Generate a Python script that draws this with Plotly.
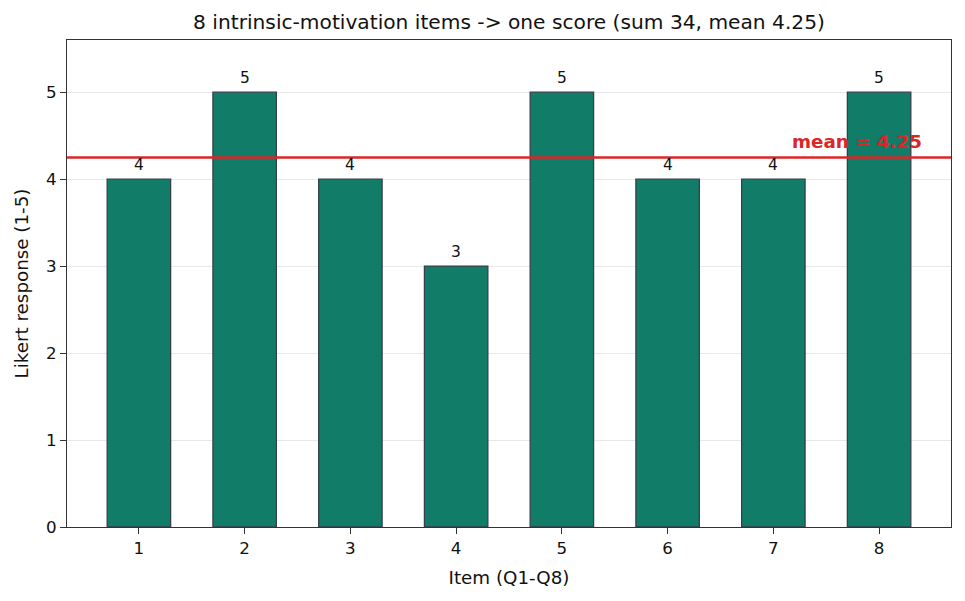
import plotly.graph_objects as go

items = [1, 2, 3, 4, 5, 6, 7, 8]
responses = [4, 5, 4, 3, 5, 4, 4, 5]
mean_val = sum(responses) / len(responses)
title = "8 intrinsic-motivation items -> one score (sum 34, mean 4.25)"
x_label = "Item (Q1-Q8)"
y_label = "Likert response (1-5)"

FONT = "DejaVu Sans"
BAR = "#117d69"
EDGE = "#36404d"
RED = "#dc2626"
AX = "#333333"

fig = go.Figure()
fig.add_trace(go.Bar(
    x=items, y=responses, width=0.6,
    marker=dict(color=BAR, line=dict(color=EDGE, width=1.3)),
    hoverinfo="x+y", showlegend=False,
))

for xi, yi in zip(items, responses):
    fig.add_annotation(x=xi, y=yi, text=str(yi), showarrow=False,
                       yanchor="bottom", yshift=3,
                       font=dict(family=FONT, size=15.5, color="#111111"))

fig.add_shape(type="line", xref="paper", x0=0, x1=1, yref="y",
              y0=mean_val, y1=mean_val, line=dict(color=RED, width=2.5))
fig.add_annotation(x=8.42, y=mean_val, text=f"<b>mean = {mean_val:.2f}</b>",
                   showarrow=False, xanchor="right", yanchor="bottom", yshift=3,
                   font=dict(family=FONT, size=18.3, color=RED))

fig.update_layout(
    width=965, height=601,
    margin=dict(l=67, r=14, t=40, b=74),
    paper_bgcolor="white", plot_bgcolor="white",
    font=dict(family=FONT, size=16.7, color="#111111"),
    title=dict(text=title, x=0.5, xref="paper", xanchor="center",
               y=1 - 22 / 601, yref="container", yanchor="middle",
               font=dict(family=FONT, size=20.2, color="#111111")),
    xaxis=dict(range=[0.32, 8.68], tickvals=items, ticktext=[str(i) for i in items],
               ticks="outside", ticklen=6, tickwidth=1.3, tickcolor=AX, showline=True, linecolor=AX,
               linewidth=1.3, mirror=True, showgrid=False, zeroline=False,
               tickfont=dict(size=16.7),
               title=dict(text=x_label, standoff=13, font=dict(size=18.3))),
    yaxis=dict(range=[0, 5.6], tickvals=[0, 1, 2, 3, 4, 5],
               ticks="outside", ticklen=6, tickwidth=1.3, tickcolor=AX, showline=True, linecolor=AX,
               linewidth=1.3, mirror=True, showgrid=True, gridcolor="#e8e8e8",
               gridwidth=1.2, zeroline=False,
               tickfont=dict(size=16.7),
               title=dict(text=y_label, standoff=12, font=dict(size=18.3))),
)

fig.write_html("out.html")
